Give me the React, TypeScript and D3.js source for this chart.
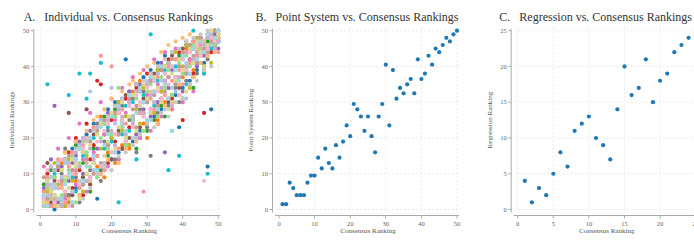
import * as d3 from "d3";

// consensus rank of each item (x axis everywhere)
const consensusRanks = [
  1, 2, 3, 4, 5, 6, 7, 8, 9, 10, 11, 12, 13, 14, 15, 16, 17, 18, 19, 20, 21, 22, 23, 24, 25,
  26, 27, 28, 29, 30, 31, 32, 33, 34, 35, 36, 37, 38, 39, 40, 41, 42, 43, 44, 45, 46, 47, 48, 49, 50,
];

// A. each individual's ranking of the 50 items
const rater01 = [3,9,1,0,12,2,14,4,17,6,18,7,21,9,24,3,25,12,28,14,30,16,31,42,33,19,35,22,37,24,39,26,41,28,43,30,44,32,23,34,46,36,47,39,48,41,12,28,46,49];
const rater02 = [2,6,1,9,3,13,5,2,15,8,4,19,10,7,23,12,26,9,16,27,13,29,18,22,17,33,21,36,24,20,38,27,25,40,30,34,28,42,32,37,45,35,39,44,41,47,43,46,49,48];
const rater03 = [7,1,11,4,2,8,14,3,10,18,6,13,20,5,17,22,11,26,15,21,28,14,25,19,31,23,17,33,27,22,36,25,39,29,26,41,32,35,43,31,38,46,34,41,44,39,47,45,50,47];
const rater04 = [1,10,5,2,13,3,9,16,6,20,11,4,24,14,18,36,35,21,13,25,19,27,17,31,23,26,34,20,30,38,28,33,24,39,36,42,31,37,44,25,40,45,38,43,47,27,49,44,46,50];
const rater05 = [6,3,14,29,2,12,1,8,5,15,19,10,8,22,13,17,24,11,27,20,16,30,23,18,33,25,21,35,28,32,26,37,30,41,16,34,39,36,42,33,44,38,45,40,48,43,46,47,49,45];
const rater06 = [5,13,2,8,11,1,16,27,4,19,12,9,28,7,21,15,10,24,18,14,29,22,17,32,20,26,35,23,31,35,27,38,29,33,40,31,43,36,34,45,39,42,37,47,44,40,48,46,50,48];
const rater07 = [12,4,9,1,17,6,3,20,11,7,24,14,5,27,16,9,30,21,12,31,25,14,34,27,18,37,29,20,39,32,22,42,35,26,44,37,28,45,40,30,47,42,33,48,44,38,49,46,50,47];
const rater08 = [3,8,12,6,1,10,17,4,13,9,2,16,20,11,15,24,8,19,22,26,14,21,29,18,25,31,16,28,33,23,15,36,27,31,38,29,40,34,30,43,36,41,45,38,44,47,42,48,45,49];
const rater09 = [2,5,9,13,7,11,1,14,8,12,17,5,15,19,10,22,17,13,25,20,27,30,22,26,18,32,28,24,34,30,37,27,39,33,35,41,32,44,37,40,46,34,42,48,43,45,49,41,47,50];
const rater10 = [1,35,6,10,3,2,13,32,9,5,38,15,31,38,20,11,41,17,23,19,26,2,21,29,22,30,14,27,32,25,49,29,36,31,39,11,22,40,15,42,35,44,50,41,46,38,10,45,48,47];
const rater11 = [4,1,7,11,3,9,13,6,2,14,18,8,16,33,11,21,25,13,19,34,24,17,28,21,31,26,20,33,30,36,25,32,38,36,28,40,34,33,45,38,31,44,41,46,43,47,45,49,48,50];
const rater12 = [9,2,5,1,13,6,16,3,15,19,4,20,22,8,25,26,10,28,14,31,29,13,33,17,35,36,19,38,22,40,33,41,24,44,29,46,30,47,35,48,33,49,37,45,41,47,43,50,44,48];
const rater13 = [1,6,3,9,12,4,8,11,15,2,13,19,16,12,22,9,20,24,17,21,26,34,23,18,29,25,31,27,22,33,35,30,26,37,34,39,32,36,41,38,43,40,46,42,45,44,48,47,46,50];
const rater14 = [5,9,1,3,14,7,2,12,16,10,6,18,13,20,23,15,43,11,26,40,21,17,28,24,30,20,33,27,5,35,31,28,37,34,32,40,36,42,39,35,44,41,47,43,46,45,49,48,50,44];
const rater15 = [2,7,4,11,6,1,9,13,5,16,12,20,8,17,14,23,19,15,25,22,18,28,26,21,30,24,33,29,27,35,32,30,38,34,36,41,29,39,37,43,40,45,42,44,47,46,48,49,45,47];
const rater16 = [9,3,5,2,12,8,4,15,1,11,17,7,14,19,10,22,13,25,18,16,27,21,24,20,31,28,23,34,26,30,36,32,29,39,33,37,42,35,40,44,38,46,43,41,48,45,44,47,50,49];
const rater17 = [3,11,6,2,8,14,5,1,10,13,7,17,20,9,15,19,12,22,24,16,21,27,25,19,29,23,32,30,26,34,28,36,33,31,38,35,40,37,32,42,39,44,41,46,43,8,45,48,47,49];
const rater18 = [1,4,12,7,3,2,14,9,5,17,8,3,19,6,22,10,24,12,26,11,29,15,31,16,32,18,35,21,36,24,38,23,40,27,42,26,44,30,45,31,47,35,48,36,49,39,50,40,48,50];
const rater19 = [2,8,5,4,1,11,9,6,14,12,3,16,10,18,13,21,24,15,19,27,17,23,30,20,26,32,22,29,35,31,27,37,34,30,40,28,38,36,42,39,33,45,41,47,44,40,46,50,48,49];
const rater20 = [4,1,9,6,13,3,7,10,2,14,17,8,12,20,15,11,23,18,21,26,16,29,24,22,32,20,27,34,30,25,37,33,28,40,35,31,22,39,36,43,41,38,45,42,47,44,49,46,48,50];

const raters = [
  rater01, rater02, rater03, rater04, rater05, rater06, rater07, rater08, rater09, rater10,
  rater11, rater12, rater13, rater14, rater15, rater16, rater17, rater18, rater19, rater20,
];

const raterColors = [
  "#1f77b4", "#ff7f0e", "#2ca02c", "#d62728", "#9467bd", "#8c564b", "#e377c2", "#7f7f7f", "#bcbd22", "#17becf",
  "#aec7e8", "#ffbb78", "#98df8a", "#ff9896", "#c5b0d5", "#c49c94", "#f7b6d2", "#c7c7c7", "#dbdb8d", "#9edae5",
];

// B. point system
const pointSystemRanks = [
  1.5, 1.5, 7.5, 6, 4, 4, 4, 7.5, 9.5, 9.5, 14.5, 11.5, 17, 13, 11.5, 18, 14.5, 19, 23.5, 20.5,
  29.5, 28, 26, 22, 26, 20.5, 16, 26, 29.5, 40.5, 23.5, 39, 31, 34, 32.5, 35, 36.5, 32.5, 42, 36.5,
  38, 43, 40.5, 45, 44, 46, 48, 47, 49, 50,
];

// C. regression
const regressionConsensus = [1, 2, 3, 4, 5, 6, 7, 8, 9, 10, 11, 12, 13, 14, 15, 16, 17, 18, 19, 20, 21, 22, 23, 24];
const regressionRanks = [4, 1, 3, 2, 5, 8, 6, 11, 12, 13, 10, 9, 7, 14, 20, 16, 17, 21, 15, 18, 19, 22, 23, 24];

const ticks50 = [0, 10, 20, 30, 40, 50];
const ticks25 = [0, 5, 10, 15, 20, 25];

const FONT = "'Liberation Serif', 'Times New Roman', serif";
const PLOT = 178;
const Y_TOP = 30.7;
const Y_BOTTOM = 209.5;
const BLUE = "#1f77b4";

type Pt = { x: number; y: number; color: string };

function Panel({ left, max, ticks, letter, title, yTitle, points }: {
  left: number; max: number; ticks: number[]; letter: string; title: string; yTitle: string; points: Pt[];
}) {
  const x = d3.scaleLinear().domain([0, max]).range([left, left + PLOT]);
  const y = d3.scaleLinear().domain([0, max]).range([Y_BOTTOM, Y_TOP]);
  const axisX = left - 6.5;
  const axisY = Y_BOTTOM + 6;
  const midY = (Y_TOP + Y_BOTTOM) / 2;
  return (
    <g fontFamily={FONT}>
      {ticks.map(t => (
        <line key={"gx" + t} x1={x(t)} x2={x(t)} y1={Y_TOP - 3} y2={Y_BOTTOM + 3}
          stroke="#e4e4e4" strokeWidth={0.8} strokeDasharray="2,2" />
      ))}
      {ticks.map(t => (
        <line key={"gy" + t} x1={left - 3} x2={left + PLOT + 3} y1={y(t)} y2={y(t)}
          stroke="#e4e4e4" strokeWidth={0.8} strokeDasharray="2,2" />
      ))}
      <line x1={axisX} x2={axisX} y1={Y_TOP - 2} y2={Y_BOTTOM + 3} stroke="#aaa" />
      <line x1={left - 4} x2={left + PLOT + 2} y1={axisY} y2={axisY} stroke="#aaa" />
      {ticks.map(t => (
        <g key={"ty" + t}>
          <line x1={axisX - 3} x2={axisX} y1={y(t)} y2={y(t)} stroke="#aaa" />
          <text x={axisX - 4.5} y={y(t)} dy="0.33em" textAnchor="end" fontSize={6.5} fill="#666">{t}</text>
        </g>
      ))}
      {ticks.map(t => (
        <g key={"tx" + t}>
          <line x1={x(t)} x2={x(t)} y1={axisY} y2={axisY + 3} stroke="#aaa" />
          <text x={x(t)} y={axisY + 10.5} textAnchor="middle" fontSize={6.5} fill="#666">{t}</text>
        </g>
      ))}
      {points.map((p, i) => (
        <circle key={i} cx={x(p.x)} cy={y(p.y)} r={2.1} fill={p.color} />
      ))}
      <text x={left + PLOT / 2} y={233} textAnchor="middle" fontSize={7} fill="#555">Consensus Ranking</text>
      <text transform={`translate(${left - 26},${midY}) rotate(-90)`} textAnchor="middle" fontSize={7} fill="#555">{yTitle}</text>
      <text x={left + 78} y={21} textAnchor="middle" fontSize={12} fill="#333">
        <tspan>{letter}</tspan>
        <tspan dx={9}>{title}</tspan>
      </text>
    </g>
  );
}

export default function App() {
  const pointsA: Pt[] = [];
  raters.forEach((ranks, r) => {
    ranks.forEach((v, i) => pointsA.push({ x: consensusRanks[i], y: v, color: raterColors[r] }));
  });
  const pointsB: Pt[] = pointSystemRanks.map((v, i) => ({ x: consensusRanks[i], y: v, color: BLUE }));
  const pointsC: Pt[] = regressionRanks.map((v, i) => ({ x: regressionConsensus[i], y: v, color: BLUE }));

  return (
    <svg width={694} height={240} style={{ position: "absolute", left: 0, top: 0, background: "#fff" }}>
      <Panel left={40.3} max={50} ticks={ticks50} letter="A." title="Individual vs. Consensus Rankings"
        yTitle="Individual Rankings" points={pointsA} />
      <Panel left={279} max={50} ticks={ticks50} letter="B." title="Point System vs. Consensus Rankings"
        yTitle="Point System Ranking" points={pointsB} />
      <Panel left={517.7} max={25} ticks={ticks25} letter="C." title="Regression vs. Consensus Rankings"
        yTitle="Regression Ranking" points={pointsC} />
    </svg>
  );
}
